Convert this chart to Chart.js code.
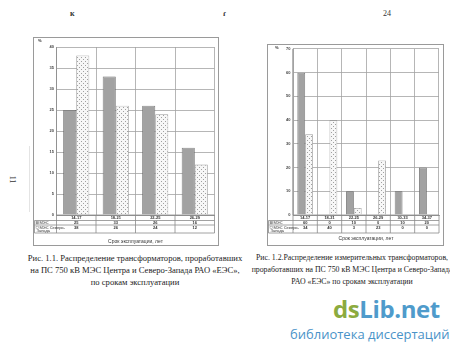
<!DOCTYPE html>
<html lang="ru">
<head>
<meta charset="utf-8">
<script src="https://cdn.jsdelivr.net/npm/chart.js@4/dist/chart.umd.min.js"></script>
<style>
  html, body { margin: 0; padding: 0; background: #fff; }
  body { width: 450px; height: 348px; position: relative; overflow: hidden; -webkit-font-smoothing: antialiased; }
  canvas { position: absolute; }
  .caption {
    position: absolute; text-align: center; color: #222;
    font-family: "Liberation Serif", "DejaVu Serif", serif;
    font-size: 8.6px; line-height: 12px; white-space: nowrap;
  }
  .mark { position: absolute; font-family: "Liberation Serif", serif; color: #333; font-size: 8px; font-weight: 700; }
  .brand { position: absolute; font-family: "Open Sans", sans-serif; white-space: nowrap; }
</style>
</head>
<body>
<canvas id="chartTransformers" width="186" height="209" style="left:33px; top:37px;"></canvas>
<canvas id="chartMeasuring" width="177" height="202" style="left:267px; top:44px;"></canvas>

<div class="mark" style="left:70px; top:9px;">к</div>
<div class="mark" style="left:223px; top:9px;">ɾ</div>
<div class="mark" style="left:383px; top:9px; font-weight:400;">24</div>
<div class="mark" style="left:9px; top:175px; font-weight:400; transform: rotate(90deg);">11</div>
<div style="position:absolute; left:29px; top:146px; width:1px; height:66px; background:#e4e4e4;"></div>

<div class="caption" style="left:15px; width:240px; top:252px;">
  Рис. 1.1. Распределение трансформаторов, проработавших<br>
  на ПС 750 кВ МЭС Центра и Северо-Запада РАО «ЕЭС»,<br>
  по срокам эксплуатации
</div>
<div class="caption" style="left:250px; width:204px; top:252px; font-size:7.8px;">
  Рис. 1.2.Распределение измерительных трансформаторов,<br>
  проработавших на ПС 750 кВ МЭС Центра и Северо-Запада<br>
  РАО «ЕЭС» по срокам эксплуатации
</div>

<div class="brand" style="left:333px; top:292px; font-size:24px; font-weight:700; letter-spacing:-0.4px;"><span style="color:#8cab3f;">ds</span><span style="color:#4f9bcb;">Lib.net</span></div>
<div class="brand" style="left:290px; top:325px; font-size:13px; color:#4a93c8;">библиотека диссертаций</div>

<script>
// возраст оборудования, лет
const ageGroups1 = ['14-17', '18-21', '22-25', '26-29'];
const mesCenter1 = [25, 33, 26, 16];
const mesNorthWest1 = [38, 26, 24, 12];
const yTicks1 = { max: 40, step: 5 };

const ageGroups2 = ['14-17', '18-21', '22-25', '26-29', '30-33', '34-37'];
const mesCenter2 = [60, 0, 10, 0, 10, 20];
const mesNorthWest2 = [34, 40, 3, 23, 0, 0];
const yTicks2 = { max: 70, step: 10 };

const seriesNames = ['МЭС', 'МЭС Северо-Запада'];
const axisTitle = 'Срок эксплуатации, лет';

function dotPattern() {
  const c = document.createElement('canvas');
  c.width = 4; c.height = 4;
  const g = c.getContext('2d');
  g.fillStyle = '#f7f7f7';
  g.fillRect(0, 0, 4, 4);
  g.fillStyle = '#a0a0a0';
  g.fillRect(0, 0, 1, 1);
  g.fillRect(2, 2, 1, 1);
  return g.createPattern(c, 'repeat');
}
const dots = dotPattern();
const darkFill = '#a2a2a2';

// таблица данных под осью, подпись оси и рамка
const dataTable = {
  id: 'dataTable',
  afterDraw(chart, args, opts) {
    const { ctx, chartArea: a, scales: { x } } = chart;
    const n = chart.data.labels.length;
    const half = (x.getPixelForValue(1) - x.getPixelForValue(0)) / 2;
    const rows = [a.bottom, a.bottom + 5.5, a.bottom + 10, a.bottom + 18];
    const left = 1.5;
    ctx.save();
    ctx.strokeStyle = '#8a8a8a';
    ctx.lineWidth = 0.8;
    ctx.beginPath();
    rows.forEach((y, k) => {
      ctx.moveTo(k === 0 ? a.left : left, y);
      ctx.lineTo(a.right, y);
    });
    ctx.moveTo(left, rows[1]); ctx.lineTo(left, rows[3]);
    for (let i = 0; i <= n; i++) {
      const xb = x.getPixelForValue(0) - half + i * half * 2;
      ctx.moveTo(xb, a.bottom);
      ctx.lineTo(xb, rows[3]);
    }
    ctx.stroke();

    ctx.fillStyle = '#333';
    ctx.font = 'bold 4px "Liberation Sans", sans-serif';
    ctx.textAlign = 'center';
    ctx.textBaseline = 'middle';
    chart.data.labels.forEach((lab, i) => {
      const cx = x.getPixelForValue(i);
      ctx.fillText(lab, cx, (rows[0] + rows[1]) / 2);
      ctx.fillText(String(chart.data.datasets[0].data[i]), cx, (rows[1] + rows[2]) / 2);
      ctx.fillText(String(chart.data.datasets[1].data[i]), cx, rows[2] + 2.6);
    });

    // подписи рядов с ключами легенды
    ctx.textAlign = 'left';
    ctx.font = '4px "Liberation Sans", sans-serif';
    const keyX = left + 1.5;
    ctx.fillStyle = darkFill;
    ctx.fillRect(keyX, (rows[1] + rows[2]) / 2 - 1.2, 2.4, 2.4);
    ctx.fillStyle = '#fff';
    ctx.fillRect(keyX, rows[2] + 1.4, 2.4, 2.4);
    ctx.strokeStyle = '#777';
    ctx.lineWidth = 0.4;
    ctx.strokeRect(keyX, (rows[1] + rows[2]) / 2 - 1.2, 2.4, 2.4);
    ctx.strokeRect(keyX, rows[2] + 1.4, 2.4, 2.4);
    ctx.fillStyle = '#333';
    ctx.fillText(seriesNames[0], keyX + 3.5, (rows[1] + rows[2]) / 2);
    const parts = seriesNames[1].split('-');
    ctx.fillText(parts[0] + '-', keyX + 3.5, rows[2] + 2.6);
    ctx.fillText(parts[1], keyX + 0.5, rows[2] + 6.2);

    ctx.textAlign = 'center';
    ctx.font = '5px "Liberation Sans", sans-serif';
    ctx.fillText(axisTitle, (a.left + a.right) / 2, opts.titleY);
    ctx.textAlign = 'left';
    ctx.font = 'bold 4px "Liberation Sans", sans-serif';
    ctx.fillText('%', opts.pctX, opts.pctY);

    ctx.strokeStyle = '#9a9a9a';
    ctx.lineWidth = 1;
    ctx.strokeRect(0.5, 0.5, chart.width - 1, chart.height - 1);
    ctx.restore();
  }
};

function makeChart(id, labels, a, b, yt, box) {
  return new Chart(document.getElementById(id), {
    type: 'bar',
    data: {
      labels: labels,
      datasets: [
        { label: seriesNames[0], data: a, backgroundColor: darkFill, borderColor: '#666', borderWidth: 0.8 },
        { label: seriesNames[1], data: b, backgroundColor: dots, borderColor: '#9c9c9c', borderWidth: 0.8 }
      ]
    },
    options: {
      responsive: false,
      animation: false,
      devicePixelRatio: 1,
      layout: { padding: { left: 0, right: box.right, top: box.top, bottom: box.bottom } },
      datasets: { bar: { categoryPercentage: box.cat, barPercentage: 1 } },
      plugins: {
        legend: { display: false },
        tooltip: { enabled: false },
        dataTable: { titleY: box.titleY, pctX: box.pctX, pctY: box.pctY }
      },
      scales: {
        x: {
          grid: { color: '#a3a3a3', lineWidth: 0.8, drawTicks: false, offset: true },
          border: { color: '#8a8a8a', width: 0.8 },
          ticks: { display: false },
          afterFit: (s) => { s.height = 0; }
        },
        y: {
          min: 0, max: yt.max,
          grid: { color: '#a3a3a3', lineWidth: 0.8, drawTicks: false },
          border: { color: '#8a8a8a', width: 0.8 },
          ticks: {
            stepSize: yt.step, padding: 2.5, color: '#444',
            font: { family: 'Liberation Sans', size: 4, weight: 'bold' }
          },
          afterFit: (s) => { s.width = box.left; }
        }
      }
    },
    plugins: [dataTable]
  });
}

window.addEventListener('DOMContentLoaded', () => {
  makeChart('chartTransformers', ageGroups1, mesCenter1, mesNorthWest1, yTicks1,
    { left: 23.5, right: 4.5, top: 10, bottom: 31, cat: 0.66, titleY: 205, pctX: 5, pctY: 4 });
  makeChart('chartMeasuring', ageGroups2, mesCenter2, mesNorthWest2, yTicks2,
    { left: 26, right: 5, top: 3, bottom: 31, cat: 0.64, titleY: 195, pctX: 8, pctY: 3.5 });
});
</script>
</body>
</html>
